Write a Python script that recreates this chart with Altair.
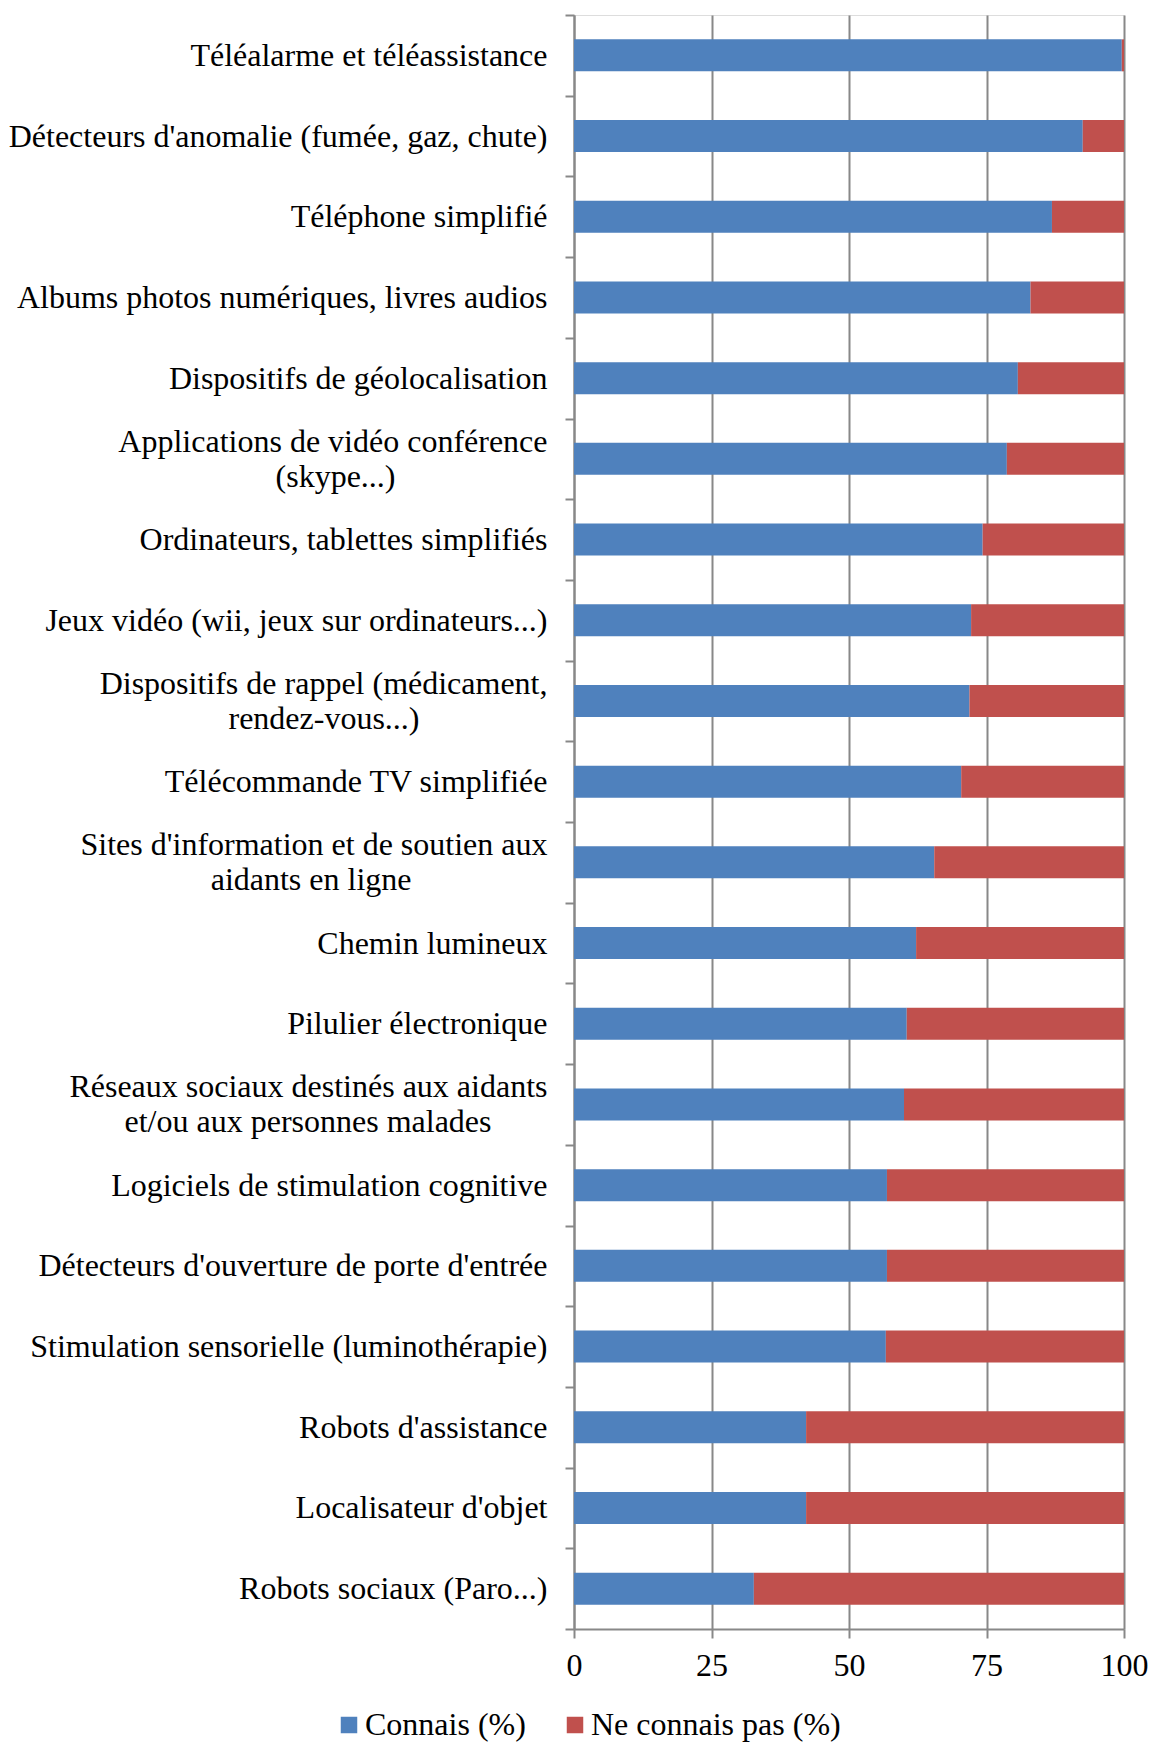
import altair as alt
import pandas as pd

NB = "\u00a0"
ZW = "\u200b"


def pad(n):
    # no-break spaces that centre a wrapped second line under the first
    return NB * n + ZW


# Technologies, top to bottom ("|" marks a line break in the axis label)
technologies = [
    "Téléalarme et téléassistance",
    "Détecteurs d'anomalie (fumée, gaz, chute)",
    "Téléphone simplifié",
    "Albums photos numériques, livres audios",
    "Dispositifs de géolocalisation",
    "Applications de vidéo conférence|(skype...)" + pad(19),
    "Ordinateurs, tablettes simplifiés",
    "Jeux vidéo (wii, jeux sur ordinateurs...)",
    "Dispositifs de rappel (médicament,|rendez-vous...)" + pad(16),
    "Télécommande TV simplifiée",
    "Sites d'information et de soutien aux|aidants en ligne" + pad(17),
    "Chemin lumineux",
    "Pilulier électronique",
    "Réseaux sociaux destinés aux aidants|et/ou aux personnes malades" + pad(7),
    "Logiciels de stimulation cognitive",
    "Détecteurs d'ouverture de porte d'entrée",
    "Stimulation sensorielle (luminothérapie)",
    "Robots d'assistance",
    "Localisateur d'objet",
    "Robots sociaux (Paro...)",
]

connais = [99.6, 92.5, 86.9, 83.0, 80.7, 78.7, 74.3, 72.2, 71.9, 70.4,
           65.5, 62.2, 60.5, 60.0, 56.9, 56.9, 56.7, 42.2, 42.2, 32.7]
ne_connais_pas = [0.4, 7.5, 13.1, 17.0, 19.3, 21.3, 25.7, 27.8, 28.1, 29.6,
                  34.5, 37.8, 39.5, 40.0, 43.1, 43.1, 43.3, 57.8, 57.8, 67.3]

series_names = ["Connais (%)", "Ne connais pas (%)"]
series_colors = ["#4F81BD", "#C0504D"]
x_ticks = [0, 25, 50, 75, 100]

rows = []
for tech, a, b in zip(technologies, connais, ne_connais_pas):
    rows.append({"tech": tech, "serie": series_names[0], "ordre": 0, "pct": a})
    rows.append({"tech": tech, "serie": series_names[1], "ordre": 1, "pct": b})
df = pd.DataFrame(rows)

FONT = "Liberation Serif"
GRID = "#888888"
HALF_LINE = 17.5

# Labels are laid out on half-line steps and lifted by one half line:
# a single label becomes [blank, text] (text lands on the bar's centre),
# a wrapped one becomes [first, blank, second] (block centred on the bar).
label_expr = (
    "indexof(datum.label, '|') >= 0 ? "
    f"[split(datum.label, '|')[0], '{ZW}', split(datum.label, '|')[1]] : "
    f"['{ZW}', datum.label]"
)

bars = alt.Chart(df).mark_bar(size=32).encode(
    x=alt.X(
        "pct:Q",
        stack="zero",
        scale=alt.Scale(domain=[0, 100], nice=False, zero=True),
        axis=alt.Axis(
            title=None,
            values=x_ticks,
            grid=True,
            gridColor=GRID,
            gridWidth=2,
            domainColor=GRID,
            domainWidth=2,
            tickColor=GRID,
            tickWidth=2,
            tickSize=9,
            labelFont=FONT,
            labelFontSize=32,
            labelColor="black",
            labelPadding=12,
            labelFlush=False,
        ),
    ),
    y=alt.Y(
        "tech:N",
        sort=technologies,
        scale=alt.Scale(paddingInner=0, paddingOuter=0),
        axis=alt.Axis(
            title=None,
            tickBand="extent",
            domainColor=GRID,
            domainWidth=2,
            tickColor=GRID,
            tickWidth=2,
            tickSize=9,
            labelFont=FONT,
            labelFontSize=32,
            labelColor="black",
            labelPadding=18,
            labelLineHeight=HALF_LINE,
            labelOffset=-HALF_LINE,
            labelLimit=0,
            labelExpr=label_expr,
        ),
    ),
    color=alt.Color(
        "serie:N",
        scale=alt.Scale(domain=series_names, range=series_colors),
        legend=alt.Legend(
            title=None,
            orient="none",
            direction="horizontal",
            legendX=-241,
            legendY=1694,
            padding=0,
            symbolType="square",
            symbolSize=272,
            symbolStrokeWidth=0,
            labelFont=FONT,
            labelFontSize=32,
            labelColor="black",
            labelOffset=0,
            columnPadding=33,
            labelLimit=0,
        ),
    ),
    order=alt.Order("ordre:Q"),
)

chart = bars.properties(
    width=550,
    height=1614,
    autosize=alt.AutoSizeParams(type="none"),
    padding={"left": 574, "top": 15, "right": 28, "bottom": 113},
).configure_view(stroke=None).configure(background="white")

chart.save("out.html", embed_options={"renderer": "svg", "actions": False})
